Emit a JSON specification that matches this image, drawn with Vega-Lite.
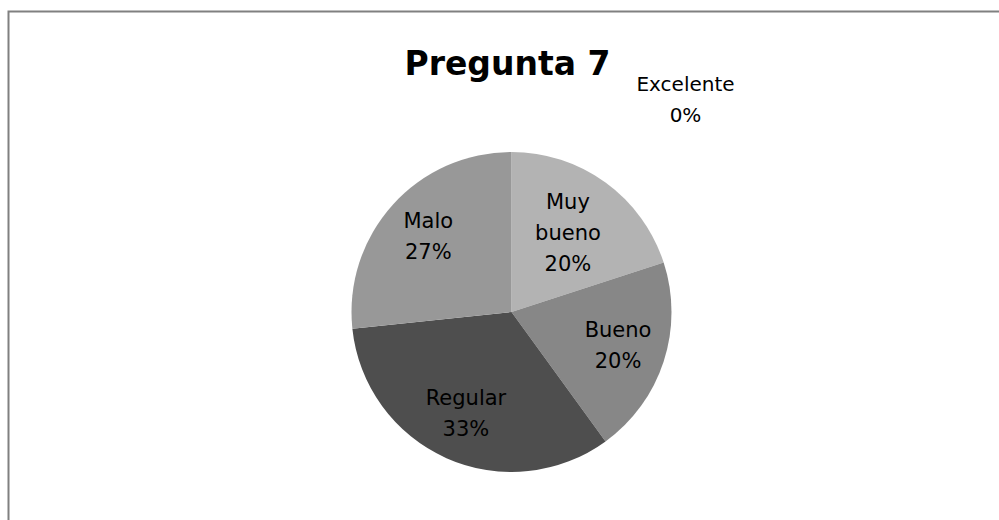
{
  "$schema": "https://vega.github.io/schema/vega-lite/v6.json",
  "autosize": "none",
  "width": 1006,
  "height": 601,
  "padding": {"left": 8.5, "top": 11.5, "right": -15.5, "bottom": -92.5},
  "background": "white",
  "view": {"stroke": "#808080", "strokeWidth": 2},
  "config": {
    "view": {"stroke": "#808080", "strokeWidth": 2},
    "font": "DejaVu Sans"
  },
  "title": {
    "text": "Pregunta 7",
    "font": "DejaVu Sans",
    "fontSize": 33,
    "fontWeight": "bold",
    "color": "#000000",
    "anchor": "middle",
    "frame": "group",
    "baseline": "alphabetic",
    "offset": -96,
    "dx": -4
  },
  "data": {
    "values": [
      {"category": "Excelente", "value": 0, "order": 1, "label": ["Excelente", "0%"]},
      {"category": "Muy bueno", "value": 3, "order": 2, "label": ["Muy", "bueno", "20%"]},
      {"category": "Bueno", "value": 3, "order": 3, "label": ["Bueno", "20%"]},
      {"category": "Regular", "value": 5, "order": 4, "label": ["Regular", "33%"]},
      {"category": "Malo", "value": 4, "order": 5, "label": ["Malo", "27%"]}
    ]
  },
  "encoding": {
    "theta": {"field": "value", "type": "quantitative", "stack": true},
    "order": {"field": "order", "type": "quantitative", "sort": "ascending"}
  },
  "layer": [
    {
      "mark": {"type": "arc", "outerRadius": 160, "stroke": null},
      "encoding": {
        "color": {
          "field": "category",
          "type": "nominal",
          "scale": {
            "domain": ["Excelente", "Muy bueno", "Bueno", "Regular", "Malo"],
            "range": ["#d0d0d0", "#b3b3b3", "#878787", "#4e4e4e", "#989898"]
          },
          "legend": null
        }
      }
    },
    {
      "mark": {"type": "text", "radius": 112, "dy": -15.5, "fontSize": 21, "lineHeight": 31, "color": "#000000", "font": "DejaVu Sans", "align": "center", "baseline": "middle"},
      "encoding": {
        "text": {
          "condition": {"test": "datum.category != 'Muy bueno' && datum.category != 'Excelente'", "field": "label"},
          "value": ""
        }
      }
    },
    {
      "mark": {"type": "text", "radius": 96, "dy": -31, "fontSize": 21, "lineHeight": 31, "color": "#000000", "font": "DejaVu Sans", "align": "center", "baseline": "middle"},
      "encoding": {
        "text": {
          "condition": {"test": "datum.category == 'Muy bueno'", "field": "label"},
          "value": ""
        }
      }
    },
    {
      "mark": {"type": "text", "radius": 0, "dx": 174, "dy": -227, "fontSize": 20, "lineHeight": 31, "color": "#000000", "font": "DejaVu Sans", "align": "center", "baseline": "middle"},
      "encoding": {
        "text": {
          "condition": {"test": "datum.category == 'Excelente'", "field": "label"},
          "value": ""
        }
      }
    }
  ]
}
